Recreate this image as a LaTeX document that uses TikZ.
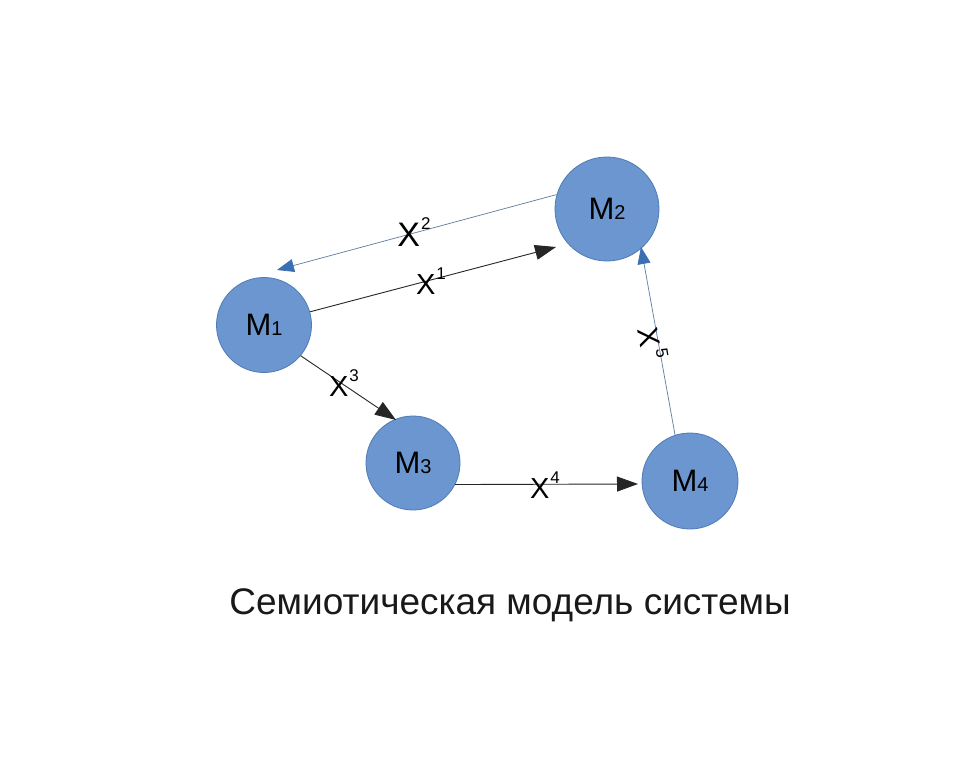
\documentclass[tikz,border=0pt]{standalone}
\usepackage{fontspec}
\setmainfont{Liberation Sans}
\usetikzlibrary{arrows.meta}
\definecolor{nodefill}{HTML}{6B96CF}
\definecolor{nodeline}{HTML}{4F7BB5}
\definecolor{bluetip}{HTML}{3A6FB4}
\definecolor{blueline}{HTML}{5F7C9C}
\newcommand\mlab[1]{M{\fontsize{20}{20}\selectfont #1}}
\newcommand\xlab[2][1pt]{X\kern#1\raisebox{0.5em}{\fontsize{17}{17}\selectfont #2}}
\begin{document}
\begin{tikzpicture}[x=1pt,y=-1pt,
  mnode/.style={circle, fill=nodefill, draw=nodeline, line width=0.8pt,
    minimum size=#1, inner sep=0pt, font=\fontsize{31}{31}\selectfont},
  blackarr/.style={draw=black!85, line width=0.9pt,
    -{Triangle[length=21pt,width=15pt]}},
  bluearr/.style={draw=blueline, line width=0.7pt,
    -{Triangle[length=17pt,width=13pt,color=bluetip]}},
  xl/.style={inner sep=0pt, font=\fontsize{29}{29}\selectfont},
  caption/.style={font=\fontsize{37}{37}\selectfont, text=black!90}]
\useasboundingbox (0,0) rectangle (970,768);
\fill[white] (0,0) rectangle (970,768);
% nodes
\node[mnode=95pt]  (M1) at (264,325) {\mlab{1}};
\node[mnode=104pt] (M2) at (607,209) {\mlab{2}};
\node[mnode=94pt]  (M3) at (413,463) {\mlab{3}};
\node[mnode=96pt]  (M4) at (690,481) {\mlab{4}};
% arrow ends
\coordinate (e1) at (556,247);
\coordinate (e2) at (277,270);
\coordinate (e3) at (396,420);
\coordinate (e4) at (638,484);
\coordinate (e5) at (641,247);
% connectors
\draw[blackarr] (M1.16) -- (e1);
\draw[bluearr]  (M2.164) -- (e2);
\draw[blackarr] (M1.-40) -- (e3);
\draw[blackarr] (M3.-27) -- (e4);
\draw[bluearr]  (M4.108) -- (e5);
% labels
\node[xl, font=\fontsize{34}{34}\selectfont] (l2) at (414,232) {\xlab{2}};
\node[xl] (l1) at (431,281) {\xlab{1}};
\node[xl] (l3) at (344,383) {\xlab{3}};
\node[xl] (l4) at (545,485) {\xlab{4}};
\node[xl, rotate=-80] (l5) at (653,343) {\xlab[3pt]{5}};
% caption
\node[caption] (cap) at (510,605) {Семиотическая модель системы};
\end{tikzpicture}
\end{document}
